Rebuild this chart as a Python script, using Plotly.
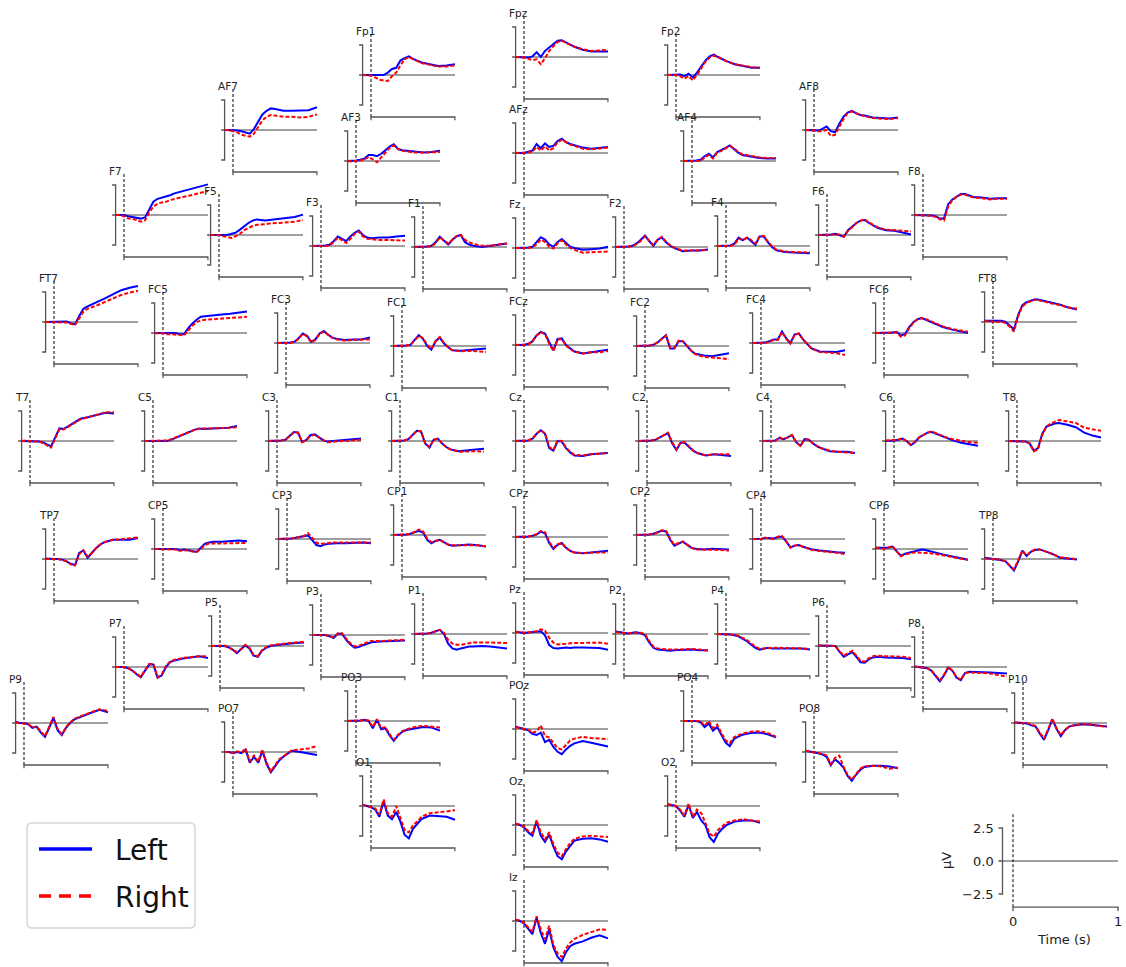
import plotly.graph_objects as go

W, H = 1126, 967

# Sample times (s) shared by every evoked trace
times = [-0.1, -0.05, 0.0, 0.05, 0.1, 0.15, 0.2, 0.25, 0.3, 0.35, 0.4,
         0.45, 0.5, 0.55, 0.6, 0.7, 0.8, 0.9, 1.0]

conditions = ["Left", "Right"]

# Evoked amplitudes (µV) per channel, Left / Right condition
Fp1_L = [0, 0, 0, 0.05, 0.0, 0.0, 0.2, 0.5, 0.6, 1.2, 1.4, 1.55, 1.35, 1.2, 1.05, 0.9, 0.75, 0.8, 0.9]
Fp1_R = [0, 0, -0.05, -0.2, -0.4, -0.45, -0.5, -0.1, 0.2, 0.8, 1.3, 1.5, 1.35, 1.15, 1.0, 0.85, 0.7, 0.7, 0.8]
Fpz_L = [0, 0, 0, -0.05, 0.05, 0.4, 0.0, 0.5, 0.8, 1.1, 1.35, 1.4, 1.2, 1.0, 0.85, 0.6, 0.45, 0.45, 0.45]
Fpz_R = [0, 0, -0.05, -0.15, -0.25, -0.2, -0.6, -0.1, 0.5, 0.9, 1.25, 1.35, 1.2, 1.0, 0.85, 0.65, 0.5, 0.55, 0.6]
Fp2_L = [0, 0, 0, 0.05, -0.1, 0.1, -0.2, 0.2, 0.7, 1.2, 1.55, 1.7, 1.5, 1.3, 1.15, 0.9, 0.75, 0.6, 0.6]
Fp2_R = [0, 0, 0, -0.1, -0.3, -0.1, -0.45, 0.0, 0.6, 1.1, 1.45, 1.6, 1.5, 1.3, 1.15, 0.9, 0.75, 0.65, 0.6]
AF7_L = [0, 0, 0, -0.05, -0.1, -0.2, -0.3, 0.1, 0.7, 1.3, 1.6, 1.8, 1.75, 1.65, 1.6, 1.6, 1.6, 1.65, 1.9]
AF7_R = [0, 0, -0.1, -0.2, -0.4, -0.5, -0.55, -0.3, 0.3, 0.8, 1.1, 1.25, 1.2, 1.15, 1.1, 1.1, 1.05, 1.1, 1.3]
AF3_L = [0, 0, 0.05, 0.1, 0.2, 0.5, 0.5, 0.4, 0.6, 0.9, 1.2, 1.4, 1.0, 0.9, 0.85, 0.75, 0.7, 0.75, 0.85]
AF3_R = [0, -0.05, 0, 0.05, 0.1, 0.35, 0.1, -0.1, 0.3, 0.7, 1.1, 1.3, 1.0, 0.85, 0.8, 0.7, 0.7, 0.7, 0.75]
AFz_L = [0, 0, 0, 0.1, 0.2, 0.75, 0.4, 0.8, 0.5, 0.6, 1.0, 1.2, 0.9, 0.75, 0.65, 0.45, 0.35, 0.4, 0.5]
AFz_R = [0, 0, 0, 0.05, 0.1, 0.5, 0.2, 0.55, 0.2, 0.4, 0.9, 1.1, 0.9, 0.7, 0.6, 0.35, 0.3, 0.35, 0.45]
AF4_L = [0, 0, 0, 0.05, 0.1, 0.4, 0.6, 0.3, 0.75, 0.9, 1.1, 1.3, 1.0, 0.7, 0.5, 0.35, 0.25, 0.2, 0.2]
AF4_R = [0, 0, 0, 0.05, 0.0, 0.3, 0.5, 0.2, 0.7, 0.85, 1.05, 1.25, 1.05, 0.75, 0.55, 0.4, 0.3, 0.25, 0.25]
AF8_L = [0, 0, 0, -0.05, 0.1, 0.3, -0.1, -0.2, 0.5, 1.1, 1.45, 1.6, 1.4, 1.25, 1.2, 1.05, 1.0, 0.95, 1.05]
AF8_R = [0, 0, -0.05, -0.1, -0.1, 0.0, -0.5, -0.4, 0.3, 0.9, 1.4, 1.55, 1.4, 1.25, 1.15, 1.0, 0.95, 0.9, 1.0]
F7_L = [0, 0, 0, -0.1, -0.15, -0.2, -0.3, -0.2, 0.5, 1.1, 1.35, 1.45, 1.5, 1.65, 1.8, 2.0, 2.2, 2.35, 2.55]
F7_R = [0, 0, -0.1, -0.3, -0.3, -0.45, -0.55, -0.45, 0.2, 0.7, 0.95, 1.05, 1.1, 1.25, 1.35, 1.5, 1.65, 1.8, 2.0]
F5_L = [0, 0, 0, 0.05, 0.0, 0.1, 0.2, 0.45, 0.75, 1.0, 1.2, 1.3, 1.25, 1.2, 1.25, 1.35, 1.4, 1.5, 1.7]
F5_R = [0, 0, 0, -0.1, -0.2, -0.25, -0.1, 0.1, 0.4, 0.6, 0.75, 0.85, 0.85, 0.9, 0.95, 1.0, 1.05, 1.1, 1.25]
F3_L = [0, 0, 0, 0.05, 0.1, 0.4, 0.8, 0.6, 0.4, 0.8, 1.1, 1.3, 0.9, 0.7, 0.65, 0.7, 0.7, 0.8, 0.85]
F3_R = [0, 0, -0.05, 0.0, 0.05, 0.3, 0.7, 0.5, 0.25, 0.6, 1.0, 1.2, 0.8, 0.6, 0.55, 0.5, 0.5, 0.5, 0.45]
F1_L = [0, 0, 0, 0.05, 0.1, 0.4, 0.85, 0.5, 0.2, 0.6, 0.9, 1.0, 0.4, 0.2, 0.1, 0.0, 0.1, 0.15, 0.3]
F1_R = [0, 0, 0, 0.0, 0.05, 0.3, 0.8, 0.55, 0.3, 0.6, 0.9, 1.0, 0.6, 0.4, 0.25, 0.1, 0.1, 0.2, 0.3]
Fz_L = [0, 0, 0, 0.05, 0.1, 0.5, 0.9, 0.7, 0.3, 0.1, 0.5, 0.75, 0.4, 0.1, 0.0, -0.15, -0.1, -0.05, 0.1]
Fz_R = [0, 0, -0.05, 0.0, 0.05, 0.3, 0.7, 0.5, 0.1, -0.05, 0.4, 0.65, 0.3, 0.0, -0.15, -0.4, -0.35, -0.35, -0.3]
F2_L = [0, 0, 0, 0.05, 0.1, 0.3, 0.6, 0.95, 0.5, 0.1, 0.6, 0.8, 0.4, 0.1, -0.1, -0.35, -0.3, -0.3, -0.2]
F2_R = [0, 0, 0, 0.0, 0.05, 0.25, 0.5, 0.9, 0.55, 0.15, 0.6, 0.85, 0.45, 0.15, -0.05, -0.3, -0.3, -0.25, -0.25]
F4_L = [0, 0, 0, 0.05, 0.2, 0.7, 0.5, 0.7, 0.4, 0.1, 0.8, 0.8, 0.3, -0.1, -0.35, -0.5, -0.55, -0.55, -0.6]
F4_R = [0, 0, 0, 0.0, 0.1, 0.6, 0.5, 0.7, 0.5, 0.2, 0.8, 0.85, 0.35, -0.05, -0.3, -0.45, -0.5, -0.5, -0.55]
F6_L = [0, 0, 0, 0.05, 0.1, 0.0, -0.15, 0.4, 0.7, 1.0, 1.2, 1.25, 1.0, 0.8, 0.6, 0.4, 0.35, 0.2, 0.05]
F6_R = [0, 0, 0, 0.05, 0.05, 0.05, -0.15, 0.35, 0.65, 1.0, 1.2, 1.3, 1.05, 0.85, 0.65, 0.45, 0.4, 0.35, 0.3]
F8_L = [0, 0, 0, -0.05, -0.05, -0.1, -0.3, -0.3, 0.9, 1.3, 1.55, 1.75, 1.75, 1.6, 1.5, 1.45, 1.35, 1.4, 1.4]
F8_R = [0, 0, 0, -0.05, -0.1, -0.15, -0.35, -0.45, 0.7, 1.25, 1.5, 1.7, 1.7, 1.55, 1.45, 1.4, 1.3, 1.35, 1.35]
FT7_L = [0, 0, 0, 0.05, 0.0, 0.05, -0.1, -0.2, 0.5, 1.1, 1.3, 1.45, 1.65, 1.8, 1.95, 2.3, 2.65, 2.85, 3.0]
FT7_R = [0, 0, 0, 0.0, -0.05, -0.05, -0.15, -0.25, 0.3, 0.85, 1.1, 1.2, 1.35, 1.5, 1.65, 1.95, 2.25, 2.45, 2.6]
FC5_L = [0, 0, 0, 0.0, 0.05, 0.0, -0.1, -0.1, 0.4, 0.8, 1.1, 1.35, 1.4, 1.45, 1.5, 1.55, 1.6, 1.7, 1.8]
FC5_R = [0, -0.05, 0, -0.1, -0.1, -0.15, -0.15, -0.2, 0.2, 0.6, 0.9, 1.05, 1.1, 1.1, 1.15, 1.2, 1.25, 1.3, 1.35]
FC3_L = [0, 0, 0, 0.05, 0.1, 0.4, 0.8, 0.6, 0.1, 0.3, 0.8, 1.0, 0.7, 0.45, 0.35, 0.25, 0.3, 0.3, 0.45]
FC3_R = [0, 0, 0, 0.0, 0.1, 0.35, 0.75, 0.55, 0.05, 0.25, 0.75, 0.95, 0.7, 0.45, 0.3, 0.2, 0.25, 0.25, 0.3]
FC1_L = [0, 0, 0, 0.05, 0.1, 0.5, 0.9, 0.6, 0.0, -0.3, 0.4, 0.7, 0.2, -0.1, -0.35, -0.4, -0.35, -0.3, -0.2]
FC1_R = [0, 0, 0, 0.05, 0.1, 0.5, 0.85, 0.65, 0.1, -0.25, 0.4, 0.75, 0.25, -0.1, -0.35, -0.45, -0.4, -0.45, -0.5]
FCz_L = [0, 0, 0, 0.1, 0.3, 0.8, 1.1, 0.95, 0.2, -0.45, 0.5, 0.55, 0.0, -0.3, -0.55, -0.7, -0.6, -0.55, -0.4]
FCz_R = [0, 0, 0, 0.05, 0.3, 0.8, 1.05, 0.9, 0.1, -0.5, 0.45, 0.5, -0.05, -0.35, -0.55, -0.7, -0.6, -0.6, -0.5]
FC2_L = [0, 0, 0, 0.05, 0.1, 0.3, 0.6, 0.9, -0.2, -0.2, 0.4, 0.4, 0.0, -0.4, -0.65, -0.8, -0.85, -0.75, -0.6]
FC2_R = [0, 0, 0, 0.05, 0.1, 0.3, 0.6, 0.85, -0.15, -0.15, 0.45, 0.4, 0.0, -0.4, -0.7, -0.9, -0.95, -1.0, -1.1]
FC4_L = [0, 0, 0, 0.05, 0.15, 0.3, 0.3, 0.95, 0.4, 0.0, 0.7, 0.8, 0.3, -0.1, -0.45, -0.7, -0.75, -0.75, -0.6]
FC4_R = [0, 0, 0, 0.0, 0.1, 0.25, 0.25, 0.9, 0.35, -0.05, 0.65, 0.8, 0.3, -0.1, -0.45, -0.75, -0.8, -0.85, -1.0]
FC6_L = [0, 0, 0, 0.05, 0.05, 0.1, -0.2, -0.1, 0.5, 0.9, 1.15, 1.25, 1.1, 0.95, 0.75, 0.5, 0.3, 0.15, 0.0]
FC6_R = [0, 0, 0, 0.0, 0.05, 0.05, -0.3, -0.2, 0.4, 0.85, 1.15, 1.25, 1.15, 1.0, 0.8, 0.55, 0.35, 0.2, 0.1]
FT8_L = [0.1, 0.1, 0.1, 0.05, 0.1, 0.0, -0.3, -0.6, 0.6, 1.4, 1.65, 1.8, 1.9, 1.85, 1.75, 1.6, 1.45, 1.2, 1.05]
FT8_R = [0.1, 0.05, 0.05, 0.0, 0.05, -0.1, -0.4, -0.8, 0.5, 1.3, 1.6, 1.75, 1.85, 1.8, 1.7, 1.55, 1.4, 1.2, 1.1]
T7_L = [0, 0, 0, 0.0, -0.05, -0.1, -0.3, -0.45, 0.3, 1.05, 1.0, 1.2, 1.45, 1.65, 1.85, 2.0, 2.2, 2.35, 2.3]
T7_R = [0, 0.05, 0, -0.05, 0.0, -0.15, -0.35, -0.55, 0.2, 0.95, 0.95, 1.15, 1.4, 1.6, 1.8, 2.0, 2.2, 2.4, 2.4]
C5_L = [0, 0, 0, 0.0, -0.05, 0.0, 0.05, 0.2, 0.35, 0.5, 0.7, 0.85, 0.95, 1.05, 1.0, 1.05, 1.05, 1.1, 1.25]
C5_R = [0, 0, 0.05, 0.0, 0.05, 0.05, 0.1, 0.25, 0.4, 0.55, 0.7, 0.85, 0.95, 1.0, 1.05, 1.05, 1.05, 1.1, 1.15]
C3_L = [0, 0, 0, 0.05, 0.1, 0.4, 0.75, 0.7, -0.1, 0.1, 0.5, 0.55, 0.3, 0.05, -0.05, 0.0, 0.05, 0.1, 0.2]
C3_R = [0, 0, 0, 0.05, 0.1, 0.4, 0.7, 0.7, -0.1, 0.05, 0.45, 0.5, 0.3, 0.05, -0.1, -0.05, 0.0, 0.05, 0.1]
C1_L = [0, 0, 0, 0.05, 0.15, 0.5, 0.85, 0.8, -0.2, -0.55, 0.1, 0.2, -0.2, -0.5, -0.7, -0.85, -0.75, -0.7, -0.65]
C1_R = [0, 0, 0, 0.05, 0.15, 0.5, 0.85, 0.8, -0.2, -0.5, 0.1, 0.2, -0.2, -0.5, -0.7, -0.9, -0.85, -0.85, -0.9]
Cz_L = [0, 0, 0, 0.05, 0.2, 0.6, 0.9, 0.6, -0.6, -0.8, 0.0, -0.05, -0.6, -0.95, -1.2, -1.25, -1.1, -1.05, -1.0]
Cz_R = [0, 0, 0, 0.05, 0.2, 0.6, 0.9, 0.65, -0.5, -0.75, 0.05, 0.0, -0.55, -0.9, -1.15, -1.2, -1.1, -1.05, -1.0]
C2_L = [0, 0, 0, 0.05, 0.1, 0.3, 0.5, 0.65, -0.2, -0.75, -0.15, -0.15, -0.5, -0.8, -1.0, -1.2, -1.1, -1.15, -1.25]
C2_R = [0, 0, 0, 0.05, 0.1, 0.3, 0.5, 0.7, -0.1, -0.7, -0.1, -0.1, -0.45, -0.8, -1.0, -1.2, -1.1, -1.1, -1.1]
C4_L = [0, 0, 0, 0.05, 0.25, 0.15, 0.3, 0.5, -0.1, -0.4, 0.15, 0.1, -0.2, -0.45, -0.6, -0.85, -0.9, -0.9, -1.0]
C4_R = [0, 0, 0, 0.0, 0.3, 0.15, 0.3, 0.5, -0.1, -0.4, 0.15, 0.1, -0.2, -0.45, -0.6, -0.8, -0.9, -0.95, -1.0]
C6_L = [0, 0, 0.05, 0.1, 0.2, 0.0, -0.35, -0.1, 0.3, 0.5, 0.7, 0.75, 0.6, 0.45, 0.3, 0.05, -0.15, -0.3, -0.4]
C6_R = [0.05, 0.05, 0.1, 0.1, 0.2, 0.0, -0.3, -0.05, 0.3, 0.5, 0.7, 0.8, 0.65, 0.5, 0.35, 0.15, 0.0, -0.1, -0.15]
T8_L = [0, 0, 0, 0.0, -0.05, -0.2, -0.8, -0.6, 0.6, 1.2, 1.35, 1.45, 1.5, 1.45, 1.35, 1.15, 0.7, 0.45, 0.3]
T8_R = [0, 0, 0, 0.0, -0.05, -0.2, -0.85, -0.7, 0.5, 1.2, 1.45, 1.6, 1.75, 1.7, 1.65, 1.5, 1.1, 0.95, 0.85]
TP7_L = [0.05, 0.0, 0.0, 0.0, -0.05, -0.2, -0.4, -0.5, 0.5, 0.7, 0.1, 0.5, 0.9, 1.2, 1.4, 1.6, 1.6, 1.6, 1.75]
TP7_R = [0.0, 0.0, 0.0, 0.0, -0.1, -0.2, -0.45, -0.55, 0.4, 0.75, 0.2, 0.5, 0.9, 1.2, 1.4, 1.6, 1.65, 1.7, 1.8]
CP5_L = [0, 0, 0, 0.0, -0.05, 0.0, -0.1, -0.05, -0.1, -0.15, -0.25, 0.1, 0.45, 0.55, 0.6, 0.6, 0.65, 0.7, 0.65]
CP5_R = [0, 0, 0, 0.0, -0.05, -0.05, -0.15, -0.1, -0.1, -0.2, -0.25, 0.0, 0.35, 0.45, 0.45, 0.5, 0.5, 0.5, 0.5]
CP3_L = [0, 0, 0, 0.05, 0.1, 0.15, 0.2, 0.3, -0.1, -0.5, -0.6, -0.45, -0.4, -0.35, -0.35, -0.35, -0.3, -0.3, -0.35]
CP3_R = [0, 0, 0, 0.05, 0.1, 0.15, 0.25, 0.5, 0.1, -0.3, -0.4, -0.35, -0.3, -0.3, -0.3, -0.3, -0.3, -0.25, -0.3]
CP1_L = [0, 0, 0, 0.05, 0.1, 0.2, 0.35, 0.2, -0.4, -0.7, -0.5, -0.4, -0.6, -0.8, -0.9, -0.85, -0.8, -0.85, -0.95]
CP1_R = [0, 0, 0, 0.05, 0.1, 0.25, 0.45, 0.3, -0.3, -0.6, -0.5, -0.4, -0.6, -0.8, -0.85, -0.85, -0.8, -0.85, -0.95]
CPz_L = [0, 0, 0, 0.05, 0.1, 0.2, 0.45, 0.3, -0.5, -1.0, -0.65, -0.5, -0.9, -1.15, -1.3, -1.35, -1.3, -1.25, -1.15]
CPz_R = [0, 0, 0, 0.05, 0.1, 0.25, 0.5, 0.4, -0.4, -0.9, -0.6, -0.5, -0.9, -1.15, -1.3, -1.35, -1.3, -1.3, -1.3]
CP2_L = [0, 0, 0, 0.05, 0.1, 0.2, 0.35, 0.3, -0.4, -0.9, -0.7, -0.55, -0.8, -1.05, -1.15, -1.2, -1.15, -1.2, -1.2]
CP2_R = [0, 0, 0, 0.05, 0.1, 0.2, 0.4, 0.35, -0.3, -0.85, -0.65, -0.55, -0.8, -1.05, -1.2, -1.2, -1.2, -1.25, -1.3]
CP4_L = [0, 0, 0, 0.1, 0.1, 0.05, 0.15, 0.2, -0.2, -0.7, -0.55, -0.5, -0.65, -0.75, -0.85, -0.95, -1.05, -1.1, -1.15]
CP4_R = [0, 0, 0, 0.1, 0.05, 0.0, 0.2, 0.25, -0.2, -0.7, -0.55, -0.5, -0.65, -0.8, -0.9, -1.0, -1.05, -1.15, -1.25]
CP6_L = [0.1, 0.1, 0.05, 0.1, 0.2, -0.2, -0.55, -0.4, -0.3, -0.2, -0.1, -0.05, -0.1, -0.2, -0.3, -0.45, -0.6, -0.75, -0.9]
CP6_R = [0.1, 0.1, 0.0, 0.1, 0.25, -0.2, -0.6, -0.45, -0.35, -0.3, -0.3, -0.3, -0.3, -0.35, -0.4, -0.5, -0.65, -0.8, -0.9]
TP8_L = [0.1, 0.05, 0.0, 0.0, -0.1, -0.2, -0.6, -0.95, -0.2, 0.7, 0.25, 0.6, 0.75, 0.8, 0.7, 0.45, 0.1, 0.0, -0.05]
TP8_R = [0.05, 0.0, 0.0, 0.0, -0.1, -0.2, -0.55, -0.85, -0.1, 0.7, 0.3, 0.6, 0.8, 0.8, 0.7, 0.45, 0.15, 0.05, 0.0]
P9_L = [0.1, 0.0, 0.0, -0.1, -0.4, -0.3, -0.8, -1.15, -0.4, 0.45, -0.6, -1.0, -0.4, 0.0, 0.3, 0.6, 0.85, 1.1, 0.9]
P9_R = [0.05, 0.0, 0.0, -0.1, -0.35, -0.3, -0.7, -1.1, -0.3, 0.5, -0.5, -0.95, -0.35, 0.05, 0.35, 0.65, 0.9, 1.15, 1.0]
P7_L = [0, 0, 0, -0.1, -0.3, -0.6, -0.85, -0.3, 0.2, 0.2, -0.9, -0.7, 0.0, 0.4, 0.55, 0.7, 0.8, 0.9, 0.75]
P7_R = [0, 0, 0, -0.1, -0.3, -0.55, -0.8, -0.3, 0.25, 0.25, -0.85, -0.6, 0.1, 0.45, 0.6, 0.75, 0.85, 0.9, 0.9]
P5_L = [0, 0, 0, 0.0, -0.1, -0.3, -0.6, -0.3, 0.05, -0.2, -0.8, -0.9, -0.4, -0.15, 0.0, 0.1, 0.2, 0.25, 0.3]
P5_R = [0, 0, 0.05, 0.05, -0.1, -0.3, -0.5, -0.25, 0.1, -0.15, -0.75, -0.85, -0.35, -0.1, 0.05, 0.15, 0.25, 0.3, 0.35]
P3_L = [0, 0, 0, 0.0, -0.1, -0.25, 0.1, 0.1, -0.4, -0.8, -1.05, -1.0, -0.85, -0.7, -0.6, -0.55, -0.5, -0.5, -0.45]
P3_R = [0, 0, 0.05, 0.0, -0.1, -0.2, 0.15, 0.15, -0.3, -0.7, -0.95, -0.9, -0.75, -0.6, -0.5, -0.5, -0.45, -0.4, -0.4]
P1_L = [0, 0, 0, 0.05, 0.1, 0.25, 0.35, 0.0, -0.8, -1.2, -1.3, -1.2, -1.1, -1.05, -1.05, -1.0, -1.05, -1.1, -1.2]
P1_R = [0, 0, 0, 0.05, 0.1, 0.2, 0.35, 0.1, -0.5, -0.8, -0.9, -0.9, -0.85, -0.75, -0.7, -0.7, -0.7, -0.7, -0.75]
Pz_L = [0.1, 0.05, 0.0, 0.05, 0.1, 0.1, 0.15, -0.2, -1.0, -1.25, -1.3, -1.25, -1.2, -1.25, -1.2, -1.2, -1.2, -1.25, -1.4]
Pz_R = [0.1, 0.05, 0.05, 0.05, 0.1, 0.15, 0.3, 0.2, -0.4, -0.8, -0.95, -0.95, -0.9, -0.85, -0.85, -0.85, -0.85, -0.8, -0.9]
P2_L = [0.2, 0.15, 0.1, 0.05, 0.1, 0.15, 0.05, -0.1, -0.7, -1.15, -1.3, -1.35, -1.4, -1.4, -1.35, -1.3, -1.3, -1.35, -1.35]
P2_R = [0.15, 0.1, 0.1, 0.05, 0.1, 0.1, 0.1, 0.0, -0.6, -1.05, -1.2, -1.25, -1.3, -1.3, -1.3, -1.25, -1.25, -1.3, -1.4]
P4_L = [0, 0, 0, -0.05, -0.1, -0.2, -0.4, -0.6, -0.9, -1.15, -1.3, -1.2, -1.15, -1.2, -1.2, -1.15, -1.2, -1.2, -1.3]
P4_R = [0, 0, 0, -0.05, -0.1, -0.15, -0.35, -0.5, -0.8, -1.05, -1.25, -1.2, -1.15, -1.15, -1.15, -1.15, -1.2, -1.2, -1.25]
P6_L = [0.05, 0.05, 0.05, 0.0, 0.0, -0.5, -0.9, -0.7, -0.5, -0.9, -1.35, -1.4, -1.1, -0.95, -0.9, -0.95, -0.95, -1.0, -1.1]
P6_R = [0.05, 0.05, 0.0, 0.0, 0.0, -0.45, -0.8, -0.6, -0.4, -0.8, -1.25, -1.3, -1.0, -0.85, -0.8, -0.85, -0.85, -0.9, -1.0]
P8_L = [0.05, 0.0, 0.0, -0.1, -0.3, -0.8, -1.2, -0.7, -0.05, -0.3, -0.9, -1.1, -0.5, -0.4, -0.4, -0.45, -0.45, -0.5, -0.55]
P8_R = [0.05, 0.0, 0.0, -0.1, -0.3, -0.75, -1.1, -0.65, 0.0, -0.3, -0.85, -1.05, -0.5, -0.45, -0.45, -0.5, -0.55, -0.7, -0.8]
P10_L = [0.05, 0.0, 0.0, -0.05, -0.2, -0.3, -0.9, -1.4, -0.6, 0.3, -0.5, -1.1, -0.6, -0.3, -0.2, -0.1, -0.15, -0.2, -0.3]
P10_R = [0.05, 0.0, 0.0, 0.0, -0.15, -0.25, -0.8, -1.3, -0.5, 0.35, -0.45, -1.0, -0.55, -0.3, -0.2, -0.1, -0.1, -0.25, -0.3]
PO7_L = [0, 0.0, -0.1, 0.0, -0.1, 0.2, -0.9, -0.4, -0.9, 0.1, -1.0, -1.7, -1.2, -0.7, -0.4, 0.1, 0.0, -0.1, -0.25]
PO7_R = [0, 0.0, -0.1, 0.05, -0.05, 0.3, -0.8, -0.3, -0.8, 0.2, -0.9, -1.6, -1.1, -0.6, -0.35, 0.15, 0.2, 0.3, 0.5]
PO3_L = [0, 0, 0, 0.05, 0.1, 0.0, -0.6, 0.1, -0.7, -0.6, -1.2, -1.65, -1.2, -0.9, -0.75, -0.6, -0.5, -0.55, -0.8]
PO3_R = [0, 0, 0, 0.05, 0.1, 0.05, -0.5, 0.15, -0.6, -0.5, -1.1, -1.55, -1.15, -0.85, -0.7, -0.5, -0.4, -0.45, -0.55]
POz_L = [0.2, 0.1, 0.0, -0.1, -0.4, -0.5, -0.3, -1.1, -0.9, -1.5, -1.9, -2.1, -1.7, -1.4, -1.2, -1.0, -1.15, -1.3, -1.45]
POz_R = [0.15, 0.1, 0.0, -0.05, -0.3, -0.2, 0.3, -0.6, -0.7, -1.2, -1.6, -1.7, -1.3, -0.95, -0.8, -0.65, -0.75, -0.8, -0.85]
PO4_L = [0, 0, 0, 0.0, -0.1, -0.5, -0.2, -0.8, -0.5, -1.2, -1.8, -2.1, -1.5, -1.3, -1.15, -1.0, -0.95, -1.1, -1.35]
PO4_R = [0, 0, 0, 0.05, 0.0, -0.4, 0.0, -0.6, -0.3, -1.0, -1.6, -1.85, -1.35, -1.2, -1.05, -0.9, -0.85, -1.0, -1.3]
PO8_L = [0.1, 0.05, 0.0, -0.1, -0.2, -0.4, -1.1, -0.6, -0.9, -1.3, -2.0, -2.4, -1.9, -1.5, -1.25, -1.15, -1.15, -1.2, -1.35]
PO8_R = [0.1, 0.05, 0.0, -0.1, -0.15, -0.3, -1.0, -0.5, -0.3, -1.2, -1.9, -2.3, -1.8, -1.4, -1.2, -1.15, -1.2, -1.4, -1.3]
O1_L = [0.1, 0.0, -0.1, -0.3, -0.9, 0.4, -0.8, -1.1, -0.5, -1.3, -2.4, -2.7, -1.9, -1.5, -1.1, -0.8, -0.85, -0.9, -1.15]
O1_R = [0.1, 0.0, -0.05, -0.2, -0.7, 0.55, -0.6, -0.9, 0.0, -1.1, -2.0, -2.2, -1.6, -1.3, -0.9, -0.6, -0.55, -0.45, -0.35]
Oz_L = [0.1, 0.0, -0.2, -0.6, -0.9, 0.3, -0.9, -1.4, -0.8, -1.8, -2.6, -2.85, -2.2, -1.7, -1.3, -1.15, -1.1, -1.2, -1.4]
Oz_R = [0.1, 0.05, -0.15, -0.5, -0.7, 0.4, -0.6, -1.2, -0.6, -1.6, -2.3, -2.6, -2.0, -1.5, -1.15, -0.95, -0.9, -0.95, -1.0]
O2_L = [0.15, 0.1, 0.0, -0.4, -0.9, 0.1, -1.0, -0.5, -1.2, -1.6, -2.6, -3.0, -2.3, -1.9, -1.6, -1.3, -1.2, -1.2, -1.4]
O2_R = [0.15, 0.1, 0.0, -0.3, -0.8, 0.2, -0.9, -0.3, -0.6, -1.4, -2.3, -2.55, -2.0, -1.7, -1.4, -1.2, -1.1, -1.2, -1.3]
Iz_L = [0.1, 0.0, -0.2, -0.7, -1.1, 0.3, -1.0, -1.9, -0.7, -2.2, -3.0, -3.35, -2.6, -2.1, -1.9, -1.7, -1.4, -1.2, -1.45]
Iz_R = [0.1, 0.05, -0.15, -0.5, -0.9, 0.4, -0.7, -1.5, -0.4, -2.0, -2.7, -3.0, -2.3, -1.8, -1.5, -1.15, -0.95, -0.7, -0.75]

evoked = {
    "Fp1": (Fp1_L, Fp1_R), "Fpz": (Fpz_L, Fpz_R), "Fp2": (Fp2_L, Fp2_R),
    "AF7": (AF7_L, AF7_R), "AF3": (AF3_L, AF3_R), "AFz": (AFz_L, AFz_R),
    "AF4": (AF4_L, AF4_R), "AF8": (AF8_L, AF8_R),
    "F7": (F7_L, F7_R), "F5": (F5_L, F5_R), "F3": (F3_L, F3_R), "F1": (F1_L, F1_R),
    "Fz": (Fz_L, Fz_R), "F2": (F2_L, F2_R), "F4": (F4_L, F4_R), "F6": (F6_L, F6_R),
    "F8": (F8_L, F8_R),
    "FT7": (FT7_L, FT7_R), "FC5": (FC5_L, FC5_R), "FC3": (FC3_L, FC3_R),
    "FC1": (FC1_L, FC1_R), "FCz": (FCz_L, FCz_R), "FC2": (FC2_L, FC2_R),
    "FC4": (FC4_L, FC4_R), "FC6": (FC6_L, FC6_R), "FT8": (FT8_L, FT8_R),
    "T7": (T7_L, T7_R), "C5": (C5_L, C5_R), "C3": (C3_L, C3_R), "C1": (C1_L, C1_R),
    "Cz": (Cz_L, Cz_R), "C2": (C2_L, C2_R), "C4": (C4_L, C4_R), "C6": (C6_L, C6_R),
    "T8": (T8_L, T8_R),
    "TP7": (TP7_L, TP7_R), "CP5": (CP5_L, CP5_R), "CP3": (CP3_L, CP3_R),
    "CP1": (CP1_L, CP1_R), "CPz": (CPz_L, CPz_R), "CP2": (CP2_L, CP2_R),
    "CP4": (CP4_L, CP4_R), "CP6": (CP6_L, CP6_R), "TP8": (TP8_L, TP8_R),
    "P9": (P9_L, P9_R), "P7": (P7_L, P7_R), "P5": (P5_L, P5_R), "P3": (P3_L, P3_R),
    "P1": (P1_L, P1_R), "Pz": (Pz_L, Pz_R), "P2": (P2_L, P2_R), "P4": (P4_L, P4_R),
    "P6": (P6_L, P6_R), "P8": (P8_L, P8_R), "P10": (P10_L, P10_R),
    "PO7": (PO7_L, PO7_R), "PO3": (PO3_L, PO3_R), "POz": (POz_L, POz_R),
    "PO4": (PO4_L, PO4_R), "PO8": (PO8_L, PO8_R),
    "O1": (O1_L, O1_R), "Oz": (Oz_L, Oz_R), "O2": (O2_L, O2_R),
    "Iz": (Iz_L, Iz_R),
}

# Sensor layout: canvas pixel where each panel has t = 0 s and 0 µV
sensor_origin = {
    "Fp1": (371, 75), "Fpz": (524, 57), "Fp2": (676, 75),
    "AF7": (233, 130), "AF3": (356, 161), "AFz": (524, 153), "AF4": (692, 161), "AF8": (814, 130),
    "F7": (124, 215), "F5": (219, 235), "F3": (321, 246), "F1": (423, 247), "Fz": (524, 248),
    "F2": (624, 247), "F4": (726, 246), "F6": (827, 235), "F8": (923, 215),
    "FT7": (54, 322), "FC5": (163, 333), "FC3": (286, 343), "FC1": (402, 346), "FCz": (524, 345),
    "FC2": (645, 346), "FC4": (761, 343), "FC6": (884, 333), "FT8": (993, 322),
    "T7": (30, 441), "C5": (153, 441), "C3": (277, 441), "C1": (400, 441), "Cz": (524, 441),
    "C2": (647, 441), "C4": (771, 441), "C6": (894, 441), "T8": (1017, 441),
    "TP7": (54, 559), "CP5": (163, 549), "CP3": (287, 539), "CP1": (402, 535), "CPz": (524, 537),
    "CP2": (645, 535), "CP4": (761, 539), "CP6": (884, 549), "TP8": (993, 559),
    "P9": (24, 723), "P7": (124, 667), "P5": (220, 646), "P3": (321, 635), "P1": (423, 634),
    "Pz": (524, 633), "P2": (624, 634), "P4": (726, 634), "P6": (827, 646), "P8": (923, 667),
    "P10": (1023, 723),
    "PO7": (233, 752), "PO3": (356, 721), "POz": (524, 729), "PO4": (692, 721), "PO8": (814, 752),
    "O1": (371, 806), "Oz": (524, 825), "O2": (676, 806),
    "Iz": (524, 921),
}

for ch, (l, r) in evoked.items():
    assert len(l) == len(times) and len(r) == len(times), ch

COLORS = {"Left": "#0000ff", "Right": "#ff0000"}
DASHES = {"Left": "solid", "Right": "4px,2px"}
SPINE = "#555555"
FONT = "DejaVu Sans"

XR = [-0.15, 1.01]
YR = [-3.8, 3.6]


def px_x(px):
    return px / W


def px_y(py):
    return 1 - py / H


fig = go.Figure()
layout = {}
shapes = []
annotations = []


def add_panel(k, x0, y0, sx, sy, tick_px):
    """Create axis pair k for a panel whose origin sits at canvas pixel (x0, y0)."""
    suf = "" if k == 1 else str(k)
    layout["xaxis" + suf] = dict(
        domain=[px_x(x0 + XR[0] * sx), px_x(x0 + XR[1] * sx)],
        range=XR, anchor="y" + suf, visible=False, fixedrange=True)
    layout["yaxis" + suf] = dict(
        domain=[px_y(y0 - YR[0] * sy), px_y(y0 - YR[1] * sy)],
        range=YR, anchor="x" + suf, visible=False, fixedrange=True)
    xr, yr = "x" + suf, "y" + suf
    ts = tick_px / sx
    tu = tick_px / sy
    # zero line
    shapes.append(dict(type="line", xref=xr, yref=yr, x0=-0.1, x1=1.0, y0=0, y1=0,
                       line=dict(color="#404040", width=1), layer="below"))
    # stimulus onset
    shapes.append(dict(type="line", xref=xr, yref=yr, x0=0, x1=0, y0=-3.5, y1=3.55,
                       line=dict(color="#000000", width=1, dash="3px,2px"), layer="below"))
    # trimmed spines with outward ticks
    path = (f"M {-0.1 - ts},2.5 L -0.1,2.5 L -0.1,-2.5 L {-0.1 - ts},-2.5 "
            f"M {-0.1 - ts},0 L -0.1,0 "
            f"M 0,{-3.5 - tu} L 0,-3.5 L 1,-3.5 L 1,{-3.5 - tu}")
    shapes.append(dict(type="path", xref=xr, yref=yr, path=path,
                       line=dict(color=SPINE, width=1.3), layer="below"))
    return xr, yr


for k, ch in enumerate(evoked, start=1):
    x0, y0 = sensor_origin[ch]
    xr, yr = add_panel(k, x0, y0, 84, 12, 3.5)
    for cond, ys in zip(conditions, evoked[ch]):
        fig.add_trace(go.Scatter(
            x=times, y=ys, xaxis=xr, yaxis=yr, mode="lines", name=cond,
            legendgroup=cond, showlegend=False, hoverinfo="skip",
            line=dict(color=COLORS[cond], width=2.0, dash=DASHES[cond])))
    annotations.append(dict(
        x=px_x(x0 - 17), y=px_y(y0 - 44), xref="paper", yref="paper",
        text=ch, showarrow=False, xanchor="left", yanchor="middle",
        font=dict(family=FONT, size=10.5, color="#222222")))

# Scale panel with labelled axes
ks = len(evoked) + 1
SX0, SY0 = 1013, 861
xr, yr = add_panel(ks, SX0, SY0, 105, 13.2, 4)
fig.add_trace(go.Scatter(x=[], y=[], xaxis=xr, yaxis=yr, showlegend=False))
for val, txt in [(2.5, "2.5"), (0.0, "0.0"), (-2.5, "\u22122.5")]:
    annotations.append(dict(
        x=px_x(996), y=px_y(SY0 - val * 13.2), xref="paper", yref="paper",
        text=txt, showarrow=False, xanchor="right", yanchor="middle",
        font=dict(family=FONT, size=13, color="#222222")))
for val, txt in [(0, "0"), (1, "1")]:
    annotations.append(dict(
        x=px_x(SX0 + val * 105), y=px_y(921), xref="paper", yref="paper",
        text=txt, showarrow=False, xanchor="center", yanchor="middle",
        font=dict(family=FONT, size=13, color="#222222")))
annotations.append(dict(
    x=px_x(1064), y=px_y(939), xref="paper", yref="paper", text="Time (s)",
    showarrow=False, xanchor="center", yanchor="middle",
    font=dict(family=FONT, size=13, color="#222222")))
annotations.append(dict(
    x=px_x(946), y=px_y(861), xref="paper", yref="paper", text="\u00b5V",
    showarrow=False, xanchor="center", yanchor="middle", textangle=-90,
    font=dict(family=FONT, size=13, color="#222222")))

# Legend box
LX0, LY0, LX1, LY1, R = 27, 823, 195, 928, 5
rx, ry = R / W, R / H
bx0, bx1, by0, by1 = px_x(LX0), px_x(LX1), px_y(LY1), px_y(LY0)
legend_path = (f"M {bx0 + rx},{by0} L {bx1 - rx},{by0} Q {bx1},{by0} {bx1},{by0 + ry} "
               f"L {bx1},{by1 - ry} Q {bx1},{by1} {bx1 - rx},{by1} "
               f"L {bx0 + rx},{by1} Q {bx0},{by1} {bx0},{by1 - ry} "
               f"L {bx0},{by0 + ry} Q {bx0},{by0} {bx0 + rx},{by0} Z")
shapes.append(dict(type="path", xref="paper", yref="paper", path=legend_path,
                   line=dict(color="#d6d6d6", width=1.5), fillcolor="rgba(255,255,255,0.8)"))
for cond, ly, dash in [("Left", 849, "solid"), ("Right", 896, "12px,8px")]:
    shapes.append(dict(type="line", xref="paper", yref="paper",
                       x0=px_x(39), x1=px_x(92), y0=px_y(ly), y1=px_y(ly),
                       line=dict(color=COLORS[cond], width=3.5, dash=dash)))
    annotations.append(dict(
        x=px_x(113), y=px_y(ly + 1), xref="paper", yref="paper", text=cond,
        showarrow=False, xanchor="left", yanchor="middle",
        font=dict(family=FONT, size=28, color="#111111")))

layout.update(
    width=W, height=H, margin=dict(l=0, r=0, t=0, b=0),
    paper_bgcolor="white", plot_bgcolor="rgba(0,0,0,0)",
    showlegend=False, shapes=shapes, annotations=annotations,
)
fig.update_layout(**layout)
fig.write_html("out.html")
